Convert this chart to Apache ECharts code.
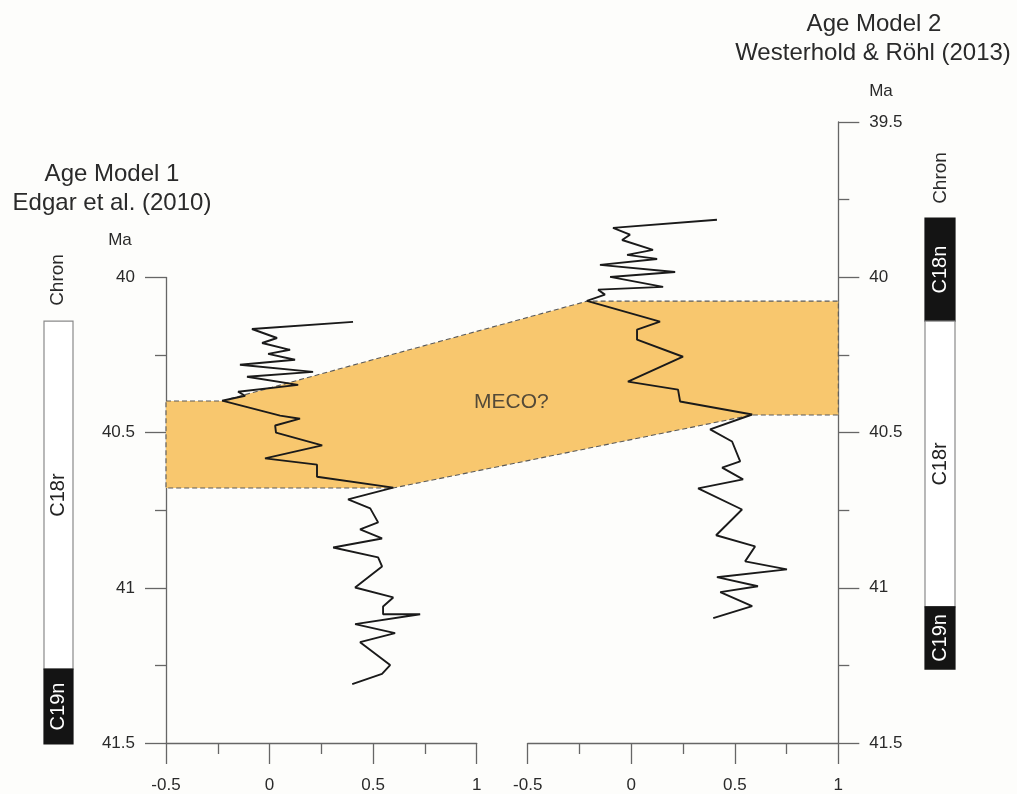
<!DOCTYPE html>
<html>
<head>
<meta charset="utf-8">
<script src="https://cdn.jsdelivr.net/npm/echarts@6/dist/echarts.min.js"></script>
<style>
  html, body { margin: 0; padding: 0; background: #fdfdfb; }
  #chart { width: 1017px; height: 794px; }
</style>
</head>
<body>
<div id="chart"></div>
<script>
// Record plotted on age model 1 (Edgar et al., 2010)
const leftAge = [40.143, 40.166, 40.195, 40.211, 40.233, 40.246, 40.265, 40.281, 40.304, 40.320,
  40.346, 40.368, 40.381, 40.397, 40.445, 40.455, 40.477, 40.500, 40.541, 40.583,
  40.603, 40.642, 40.677, 40.715, 40.744, 40.789, 40.812, 40.841, 40.870, 40.902,
  40.931, 40.999, 41.031, 41.060, 41.085, 41.085, 41.117, 41.146, 41.175, 41.249,
  41.277, 41.310];
const leftValue = [0.403, -0.085, 0.036, -0.036, 0.099, -0.007, 0.123, -0.143, 0.210, -0.109,
  0.138, -0.152, -0.118, -0.229, 0.051, 0.147, 0.027, 0.031, 0.254, -0.022,
  0.229, 0.229, 0.597, 0.379, 0.486, 0.524, 0.437, 0.543, 0.307, 0.524,
  0.543, 0.413, 0.597, 0.548, 0.548, 0.727, 0.413, 0.606, 0.437, 0.582,
  0.543, 0.399];

// Same record on age model 2 (Westerhold & Röhl, 2013)
const rightAge = [39.815, 39.841, 39.863, 39.880, 39.912, 39.928, 39.941, 39.960, 39.983, 39.999,
  40.031, 40.040, 40.056, 40.076, 40.143, 40.169, 40.201, 40.256, 40.336, 40.362,
  40.400, 40.442, 40.490, 40.529, 40.593, 40.613, 40.651, 40.680, 40.748, 40.831,
  40.867, 40.915, 40.941, 40.966, 40.995, 41.014, 41.059, 41.098];
const rightValue = [0.414, -0.088, -0.006, -0.044, 0.105, -0.020, 0.125, -0.151, 0.212, -0.102,
  0.154, -0.160, -0.127, -0.214, 0.139, 0.028, 0.028, 0.250, -0.016, 0.226,
  0.236, 0.584, 0.381, 0.487, 0.526, 0.439, 0.540, 0.323, 0.535, 0.410,
  0.598, 0.550, 0.752, 0.414, 0.612, 0.430, 0.584, 0.396];

// MECO interval: onset / end sample in each record
const mecoLeftTop = 13, mecoLeftBase = 22;
const mecoRightTop = 13, mecoRightBase = 21;
const mecoText = 'MECO?';

// Magnetochron columns
const chronLeftNames = ['C18r', 'C19n'];
const chronLeftTop = [40.14, 41.259];
const chronLeftBase = [41.259, 41.5];
const chronLeftNormal = [false, true];
const chronRightNames = ['C18n', 'C18r', 'C19n'];
const chronRightTop = [39.809, 40.14, 41.059];
const chronRightBase = [40.14, 41.059, 41.259];
const chronRightNormal = [true, false, true];

const FONT = '"Liberation Sans", Arial, sans-serif';
const AXIS = '#666';
const TEXT = '#2a2a2a';
// the right panel sits 1.75 x-units to the right in the shared overlay grid
const RIGHT_SHIFT = 1.75;

const pairs = (xs, ys) => xs.map((x, i) => [x, ys[i]]);
const leftData = pairs(leftValue, leftAge);
const rightData = pairs(rightValue, rightAge);

function panelX(min, max, gridIndex) {
  return {
    type: 'value', gridIndex, min, max, interval: 0.5, position: 'bottom',
    axisLine: { show: true, onZero: false, lineStyle: { color: AXIS, width: 1.3 } },
    axisTick: { show: true, length: 21, lineStyle: { color: AXIS, width: 1.3 } },
    minorTick: { show: true, splitNumber: 2, length: 11, lineStyle: { color: AXIS, width: 1.3 } },
    axisLabel: { margin: 34, fontSize: 17, color: TEXT, fontFamily: FONT },
    splitLine: { show: false }, minorSplitLine: { show: false }
  };
}
function panelY(min, max, gridIndex, position) {
  return {
    type: 'value', gridIndex, min, max, interval: 0.5, inverse: true, position,
    axisLine: { show: true, onZero: false, lineStyle: { color: AXIS, width: 1.3 } },
    axisTick: { show: true, length: 21, lineStyle: { color: AXIS, width: 1.3 } },
    minorTick: { show: true, splitNumber: 2, length: 11, lineStyle: { color: AXIS, width: 1.3 } },
    axisLabel: { margin: 31, fontSize: 17, color: TEXT, fontFamily: FONT },
    splitLine: { show: false }, minorSplitLine: { show: false }
  };
}
const hidden = (gridIndex, min, max, inverse) => ({
  type: 'value', gridIndex, min, max, inverse: !!inverse, show: false,
  axisLine: { show: false }, axisTick: { show: false }, axisLabel: { show: false }, splitLine: { show: false }
});

function chronSeries(gridIndex, names, tops, bases, normal) {
  return {
    type: 'custom', xAxisIndex: gridIndex, yAxisIndex: gridIndex, z: 2,
    data: names.map((n, i) => [tops[i], bases[i], i]),
    encode: { y: [0, 1] },
    renderItem(params, api) {
      const i = api.value(2);
      const a = api.coord([0, api.value(0)]);
      const b = api.coord([1, api.value(1)]);
      const dark = normal[i];
      return {
        type: 'group',
        children: [
          { type: 'rect', shape: { x: a[0], y: a[1], width: b[0] - a[0], height: b[1] - a[1] },
            style: { fill: dark ? '#141414' : '#ffffff', stroke: dark ? '#141414' : '#8a8a8a', lineWidth: 1.2 } },
          { type: 'text', x: (a[0] + b[0]) / 2, y: (a[1] + b[1]) / 2, rotation: Math.PI / 2,
            style: { text: names[i], fill: dark ? '#ffffff' : '#222', font: '20px ' + FONT, align: 'center', verticalAlign: 'middle' } }
        ]
      };
    }
  };
}

const chart = echarts.init(document.getElementById('chart'));
chart.setOption({
  backgroundColor: '#fdfdfb',
  animation: false,
  grid: [
    { left: 166, top: 277.5, width: 310.7, height: 466.5 },
    { left: 527.7, top: 122, width: 310.6, height: 622 },
    { left: 166, top: 122, width: 672.3, height: 622 },
    { left: 44, top: 277.5, width: 29, height: 466.5 },
    { left: 925, top: 122, width: 30, height: 622 }
  ],
  xAxis: [
    panelX(-0.5, 1, 0),
    panelX(-0.5, 1, 1),
    hidden(2, -0.5, 1 + RIGHT_SHIFT),
    hidden(3, 0, 1),
    hidden(4, 0, 1)
  ],
  yAxis: [
    panelY(40, 41.5, 0, 'left'),
    panelY(39.5, 41.5, 1, 'right'),
    hidden(2, 39.5, 41.5, true),
    hidden(3, 40, 41.5, true),
    hidden(4, 39.5, 41.5, true)
  ],
  graphic: [
    { type: 'text', x: 112, y: 174, style: { text: 'Age Model 1', font: '24px ' + FONT, fill: TEXT, align: 'center', verticalAlign: 'middle' } },
    { type: 'text', x: 112, y: 203, style: { text: 'Edgar et al. (2010)', font: '24px ' + FONT, fill: TEXT, align: 'center', verticalAlign: 'middle' } },
    { type: 'text', x: 874, y: 24, style: { text: 'Age Model 2', font: '24px ' + FONT, fill: TEXT, align: 'center', verticalAlign: 'middle' } },
    { type: 'text', x: 873, y: 53, style: { text: 'Westerhold & Röhl (2013)', font: '24px ' + FONT, fill: TEXT, align: 'center', verticalAlign: 'middle' } },
    { type: 'text', x: 120, y: 240, style: { text: 'Ma', font: '17px ' + FONT, fill: TEXT, align: 'center', verticalAlign: 'middle' } },
    { type: 'text', x: 881, y: 91, style: { text: 'Ma', font: '17px ' + FONT, fill: TEXT, align: 'center', verticalAlign: 'middle' } },
    { type: 'text', x: 58, y: 280, rotation: Math.PI / 2, style: { text: 'Chron', font: '19px ' + FONT, fill: TEXT, align: 'center', verticalAlign: 'middle' } },
    { type: 'text', x: 941, y: 178, rotation: Math.PI / 2, style: { text: 'Chron', font: '19px ' + FONT, fill: TEXT, align: 'center', verticalAlign: 'middle' } }
  ],
  series: [
    {
      // MECO band linking the two age models
      type: 'custom', xAxisIndex: 2, yAxisIndex: 2, z: 1,
      data: [[0, 0]],
      renderItem(params, api) {
        const lt = leftData[mecoLeftTop], lb = leftData[mecoLeftBase];
        const rt = rightData[mecoRightTop], rb = rightData[mecoRightBase];
        const xr = 1 + RIGHT_SHIFT;
        const pts = [
          [-0.5, lt[1]], [lt[0], lt[1]], [rt[0] + RIGHT_SHIFT, rt[1]], [xr, rt[1]],
          [xr, rb[1]], [rb[0] + RIGHT_SHIFT, rb[1]], [lb[0], lb[1]], [-0.5, lb[1]]
        ].map(p => api.coord(p));
        return {
          type: 'polygon', shape: { points: pts },
          style: { fill: '#f8c76e', stroke: '#5a5a5a', lineWidth: 1.1, lineDash: [5, 3] }
        };
      }
    },
    {
      type: 'scatter', xAxisIndex: 2, yAxisIndex: 2, z: 4, symbolSize: 0,
      data: [[1.17, 40.40]],
      label: { show: true, position: 'inside', formatter: mecoText, fontSize: 21, color: TEXT, fontFamily: FONT }
    },
    {
      type: 'line', xAxisIndex: 0, yAxisIndex: 0, z: 3, data: leftData,
      showSymbol: false, symbol: 'none', lineStyle: { color: '#1a1a1a', width: 1.9 }
    },
    {
      type: 'line', xAxisIndex: 1, yAxisIndex: 1, z: 3, data: rightData,
      showSymbol: false, symbol: 'none', lineStyle: { color: '#1a1a1a', width: 1.9 }
    },
    chronSeries(3, chronLeftNames, chronLeftTop, chronLeftBase, chronLeftNormal),
    chronSeries(4, chronRightNames, chronRightTop, chronRightBase, chronRightNormal)
  ]
});
</script>
</body>
</html>
